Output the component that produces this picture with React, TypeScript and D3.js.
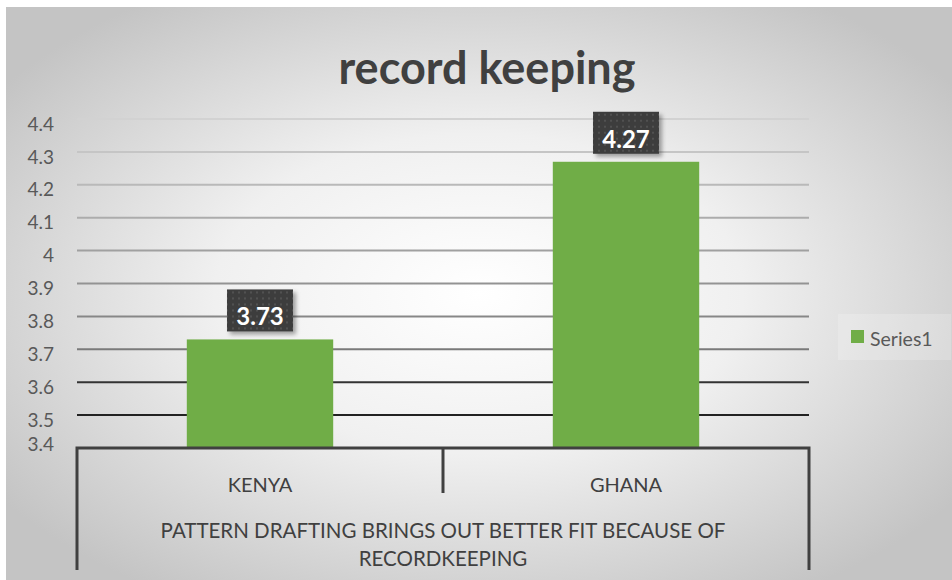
import React, { useEffect, useRef } from "react";
import * as d3 from "d3";

const categories = ["KENYA", "GHANA"];
const values = [3.73, 4.27];
const yTicks = [3.4, 3.5, 3.6, 3.7, 3.8, 3.9, 4, 4.1, 4.2, 4.3, 4.4];
const groupLabel = ["PATTERN DRAFTING BRINGS OUT BETTER FIT BECAUSE OF", "RECORDKEEPING"];
const title = "record keeping";
const seriesName = "Series1";

const App: React.FC = () => {
  const ref = useRef<SVGSVGElement>(null);

  useEffect(() => {
    const width = 952;
    const height = 580;
    const margin = { top: 119, right: 143, bottom: 132, left: 77 };
    const font = "Lato, 'Open Sans', sans-serif";
    const green = "#70ad47";

    const svg = d3.select(ref.current);
    svg.selectAll("*").remove();

    const defs = svg.append("defs");
    const grad = defs
      .append("radialGradient")
      .attr("id", "bg")
      .attr("cx", "50%")
      .attr("cy", "50%")
      .attr("r", "62%");
    grad.append("stop").attr("offset", "0%").attr("stop-color", "#ffffff");
    grad.append("stop").attr("offset", "45%").attr("stop-color", "#f0f0f0");
    grad.append("stop").attr("offset", "100%").attr("stop-color", "#c4c4c4");

    const pat = defs
      .append("pattern")
      .attr("id", "dots")
      .attr("width", 6)
      .attr("height", 6)
      .attr("patternUnits", "userSpaceOnUse");
    pat.append("rect").attr("width", 6).attr("height", 6).attr("fill", "#3d3d3d");
    pat.append("circle").attr("cx", 3).attr("cy", 3).attr("r", 0.9).attr("fill", "#5a5a5a");

    const shadow = defs.append("filter").attr("id", "shadow").attr("x", "-20%").attr("y", "-20%").attr("width", "150%").attr("height", "150%");
    shadow
      .append("feDropShadow")
      .attr("dx", 3)
      .attr("dy", 3)
      .attr("stdDeviation", 2)
      .attr("flood-color", "#000")
      .attr("flood-opacity", 0.35);

    // background
    svg.append("rect").attr("width", width).attr("height", height).attr("fill", "#ffffff");
    svg.append("rect").attr("x", 6).attr("y", 7).attr("width", width - 6).attr("height", height - 7).attr("fill", "url(#bg)");

    const x = d3
      .scaleBand<string>()
      .domain(categories)
      .range([margin.left, width - margin.right])
      .padding(0);

    const y = d3
      .scaleLinear()
      .domain([3.4, 4.4])
      .range([height - margin.bottom, margin.top]);

    const gridColor = d3
      .scaleLinear<string>()
      .domain([3.5, 3.6, 3.7, 4.4])
      .range(["#222222", "#333333", "#7a7a7a", "#d2d2d2"]);

    // gridlines
    svg
      .append("g")
      .selectAll("line")
      .data(yTicks.filter((t) => t > 3.4))
      .join("line")
      .attr("x1", margin.left)
      .attr("x2", width - margin.right)
      .attr("y1", (d) => y(d))
      .attr("y2", (d) => y(d))
      .attr("stroke", (d) => gridColor(d))
      .attr("stroke-width", 2);

    // y labels
    svg
      .append("g")
      .selectAll("text")
      .data(yTicks)
      .join("text")
      .attr("x", 54)
      .attr("y", (d) => Math.min(y(d) + 5, 444))
      .attr("dy", "0.35em")
      .attr("text-anchor", "end")
      .attr("font-family", font)
      .attr("font-size", 19)
      .attr("fill", "#595959")
      .text((d) => String(d));

    // bars
    const barW = x.bandwidth() * 0.4;
    svg
      .append("g")
      .selectAll("rect")
      .data(values)
      .join("rect")
      .attr("x", (_, i) => (x(categories[i]) ?? 0) + (x.bandwidth() - barW) / 2)
      .attr("y", (d) => y(d))
      .attr("width", barW)
      .attr("height", (d) => y(3.4) - y(d))
      .attr("fill", green);

    // data labels
    const lab = svg
      .append("g")
      .selectAll("g")
      .data(values)
      .join("g")
      .attr("transform", (d, i) => `translate(${(x(categories[i]) ?? 0) + x.bandwidth() / 2},${y(d) - 8})`);
    lab
      .append("rect")
      .attr("x", -33)
      .attr("y", -42)
      .attr("width", 66)
      .attr("height", 42)
      .attr("fill", "url(#dots)")
      .attr("filter", "url(#shadow)");
    lab
      .append("text")
      .attr("y", -6)
      .attr("text-anchor", "middle")
      .attr("font-family", font)
      .attr("font-weight", 700)
      .attr("font-size", 24)
      .attr("fill", "#ffffff")
      .text((d) => d.toFixed(2));

    // category axis box
    const axisY = y(3.4);
    const left = margin.left;
    const right = width - margin.right;
    const bottom = 570;
    const axis = svg.append("g").attr("stroke", "#404040").attr("stroke-width", 3).attr("fill", "none");
    axis.append("path").attr("d", `M${left},${bottom}V${axisY}H${right}V${bottom}`);
    axis
      .append("line")
      .attr("x1", x("GHANA") ?? 0)
      .attr("x2", x("GHANA") ?? 0)
      .attr("y1", axisY)
      .attr("y2", 493);

    svg
      .append("g")
      .selectAll("text")
      .data(categories)
      .join("text")
      .attr("x", (d) => (x(d) ?? 0) + x.bandwidth() / 2)
      .attr("y", 492)
      .attr("text-anchor", "middle")
      .attr("font-family", font)
      .attr("font-size", 20)
      .attr("fill", "#404040")
      .text((d) => d);

    svg
      .append("g")
      .selectAll("text")
      .data(groupLabel)
      .join("text")
      .attr("x", (left + right) / 2)
      .attr("y", (_, i) => 538 + i * 28)
      .attr("text-anchor", "middle")
      .attr("font-family", font)
      .attr("font-size", 20.5)
      .attr("fill", "#404040")
      .text((d) => d);

    // title
    svg
      .append("text")
      .attr("x", 487)
      .attr("y", 84)
      .attr("text-anchor", "middle")
      .attr("font-family", font)
      .attr("font-weight", 700)
      .attr("font-size", 45)
      .attr("fill", "#404040")
      .text(title);

    // legend
    const leg = svg.append("g");
    leg.append("rect").attr("x", 838).attr("y", 314).attr("width", 113).attr("height", 46).attr("fill", "#ffffff").attr("opacity", 0.2);
    leg.append("rect").attr("x", 851).attr("y", 330).attr("width", 13).attr("height", 13).attr("fill", green);
    leg
      .append("text")
      .attr("x", 870)
      .attr("y", 344)
      .attr("dy", "0.1em")
      .attr("font-family", font)
      .attr("font-size", 19.5)
      .attr("fill", "#595959")
      .text(seriesName);
  }, []);

  return (
    <svg
      ref={ref}
      width={952}
      height={580}
      style={{ position: "absolute", left: 0, top: 0 }}
    />
  );
};

export default App;
